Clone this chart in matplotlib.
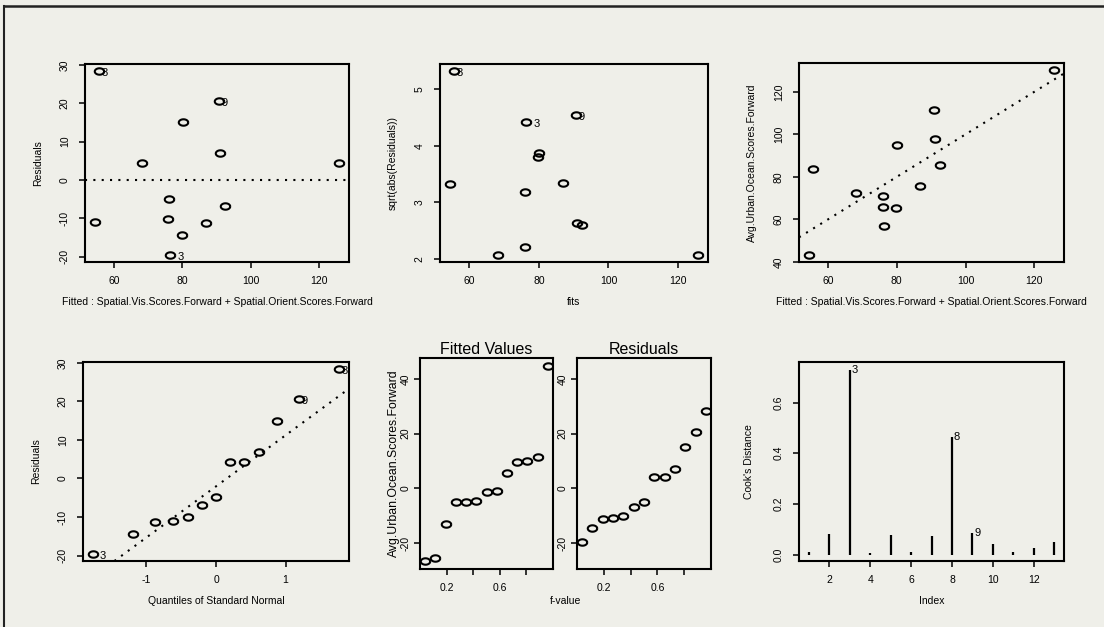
import numpy as np
import matplotlib
matplotlib.use("Agg")
import matplotlib.pyplot as plt
from matplotlib.lines import Line2D
from matplotlib.path import Path
from statistics import NormalDist

plt.rcParams['font.family'] = ['Liberation Sans', 'DejaVu Sans']
plt.rcParams['axes.unicode_minus'] = False

# ---------------- data ----------------
index = [1, 2, 3, 4, 5, 6, 7, 8, 9, 10, 11, 12, 13]
fitted = [76.1, 54.4, 76.4, 91.0, 80.1, 75.9, 92.5, 55.6, 90.8, 68.1, 86.8, 79.8, 125.8]
residuals = [-4.9, -11.0, -19.5, 6.9, 15.0, -10.1, -6.8, 28.3, 20.6, 4.3, -11.2, -14.5, 4.3]
observed = [71.2, 43.4, 56.9, 97.9, 95.1, 65.8, 85.7, 83.9, 111.4, 72.4, 75.6, 65.3, 130.1]
cooks_d = [0.010, 0.080, 0.729, 0.006, 0.079, 0.011, 0.074, 0.465, 0.085, 0.044, 0.009, 0.028, 0.050]
labelled = [3, 8, 9]

fit_label = "Fitted : Spatial.Vis.Scores.Forward + Spatial.Orient.Scores.Forward"
resp_label = "Avg.Urban.Ocean.Scores.Forward"

BG = '#efefe9'
W, H = 1104, 627
fig = plt.figure(figsize=(W / 100, H / 100), dpi=100, facecolor=BG)

# ellipse-like "o" marker
t = np.linspace(0, 2 * np.pi, 40)
omark = Path(np.column_stack([1.25 * np.cos(t), 0.85 * np.sin(t)]))


def make_ax(l, t_, r, b):
    ax = fig.add_axes([l / W, 1 - b / H, (r - l) / W, (b - t_) / H])
    ax.set_facecolor('none')
    for s in ax.spines.values():
        s.set_linewidth(1.5)
    ax.tick_params(direction='out', length=4, width=1.1, labelsize=7.5, pad=6)
    ax.tick_params(axis='y', labelrotation=90, pad=7)
    ax.margins(0.04)
    return ax


def fix_y(ax):
    for lab in ax.get_yticklabels():
        lab.set_va('center')


def pts(ax, x, y):
    ax.plot(x, y, linestyle='none', marker=omark, ms=6.8, mfc='none', mec='black', mew=1.5)


def lab_pts(ax, x, y, ids):
    for i in labelled:
        k = ids.index(i)
        dx = 7 if i == 3 else 2.5
        ax.annotate(str(i), (x[k], y[k]), xytext=(dx, -2), textcoords='offset pixels',
                    fontsize=8, ha='left', va='center')


dots = dict(color='black', linestyle=(0, (1, 3)), lw=1.5)
LP = 8

# ---------------- panel 1: residuals vs fitted ----------------
ax1 = make_ax(85, 64, 349, 262)
pts(ax1, fitted, residuals)
lab_pts(ax1, fitted, residuals, index)
ax1.set_xticks([60, 80, 100, 120])
ax1.set_yticks([-20, -10, 0, 10, 20, 30])
ax1.axhline(0, **dots)
ax1.set_xlabel(fit_label, fontsize=7.5, labelpad=LP)
ax1.set_ylabel("Residuals", fontsize=7.5, labelpad=12)
fix_y(ax1)

# ---------------- panel 2: sqrt(abs(resid)) vs fits ----------------
ax2 = make_ax(440, 64, 708, 262)
sq = list(np.sqrt(np.abs(residuals)))
pts(ax2, fitted, sq)
lab_pts(ax2, fitted, sq, index)
ax2.set_xticks([60, 80, 100, 120])
ax2.set_yticks([2, 3, 4, 5])
ax2.set_xlabel("fits", fontsize=7.5, labelpad=LP)
ax2.set_ylabel("sqrt(abs(Residuals))", fontsize=7.5, labelpad=12)
fix_y(ax2)

# ---------------- panel 3: response vs fitted ----------------
ax3 = make_ax(799, 63, 1064, 262)
pts(ax3, fitted, observed)
ax3.set_xticks([60, 80, 100, 120])
ax3.set_yticks([40, 60, 80, 100, 120])
ax3.axline((60, 60), slope=1, **dots)
ax3.set_xlabel(fit_label, fontsize=7.5, labelpad=LP)
ax3.set_ylabel(resp_label, fontsize=7.5, labelpad=12)
fix_y(ax3)

# ---------------- panel 4: normal QQ of residuals ----------------
ax4 = make_ax(83, 362, 349, 561)
n = len(residuals)
order = np.argsort(residuals)
rs = np.array(residuals)[order]
qs = np.array([NormalDist().inv_cdf((i - 0.5) / n) for i in range(1, n + 1)])
pts(ax4, qs, rs)
ids_sorted = [index[k] for k in order]
lab_pts(ax4, list(qs), list(rs), ids_sorted)
q1, q3 = np.percentile(residuals, [25, 75])
z = NormalDist().inv_cdf(0.75)
slope = (q3 - q1) / (2 * z)
icpt = (q1 + q3) / 2
ax4.set_xticks([-1, 0, 1])
ax4.set_yticks([-20, -10, 0, 10, 20, 30])
ax4.autoscale(False)
ax4.axline((0, icpt), slope=slope, **dots)
ax4.set_xlabel("Quantiles of Standard Normal", fontsize=7.5, labelpad=LP)
ax4.set_ylabel("Residuals", fontsize=7.5, labelpad=12)
fix_y(ax4)

# ---------------- panel 5: residual-fit spread ----------------
fv = (np.arange(1, n + 1) - 0.5) / n
cf = np.sort(np.array(fitted) - np.mean(fitted))
ax5a = make_ax(420, 358, 553, 569)
ax5b = make_ax(577, 358, 711, 569)
pts(ax5a, fv, cf)
pts(ax5b, fv, rs)
lo = min(cf.min(), rs.min())
hi = max(cf.max(), rs.max())
pad = 0.04 * (hi - lo)
for ax in (ax5a, ax5b):
    ax.set_ylim(lo - pad, hi + pad)
    ax.set_xlim(0, 1)
    ax.set_xticks([0.2, 0.4, 0.6, 0.8])
    ax.set_xticklabels(['0.2', '', '0.6', ''])
    ax.set_yticks([-20, 0, 20, 40])
    ax.tick_params(axis='y', pad=3)
    fix_y(ax)
ax5a.set_title("Fitted Values", fontsize=11.5, pad=3)
ax5b.set_title("Residuals", fontsize=11.5, pad=3)
ax5a.set_ylabel(resp_label, fontsize=8.8, labelpad=0)
fig.text(566 / W, 1 - 601 / H, "f-value", fontsize=7.5, ha='center', va='center')

# ---------------- panel 6: Cook's distance ----------------
ax6 = make_ax(799, 362, 1064, 561)
ax6.vlines(index, 0, cooks_d, color='black', lw=1.6)
for i in labelled:
    ax6.annotate(str(i), (i, cooks_d[i - 1]), xytext=(2, 0), textcoords='offset pixels',
                 fontsize=8, ha='left', va='center')
ax6.set_xlim(0.52, 13.48)
ax6.set_ylim(-0.025, 0.76)
ax6.set_xticks([2, 4, 6, 8, 10, 12])
ax6.set_yticks([0.0, 0.2, 0.4, 0.6])
ax6.set_yticklabels(['0.0', '0.2', '0.4', '0.6'])
ax6.set_xlabel("Index", fontsize=7.5, labelpad=LP)
ax6.set_ylabel("Cook's Distance", fontsize=7.5, labelpad=14)
fix_y(ax6)

# page frame
fig.add_artist(Line2D([4 / W, 1], [1 - 6 / H, 1 - 6 / H], transform=fig.transFigure,
                      color='#222222', lw=1.8))
fig.add_artist(Line2D([4 / W, 4 / W], [0, 1 - 6 / H], transform=fig.transFigure,
                      color='#222222', lw=1.5))

fig.savefig("out.png", dpi=100, facecolor=BG)
